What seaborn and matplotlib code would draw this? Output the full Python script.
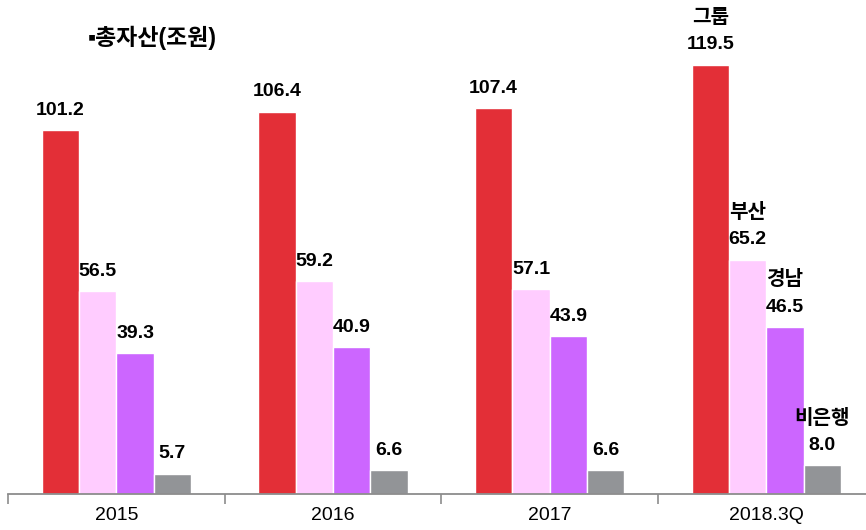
import matplotlib
matplotlib.use("Agg")
import matplotlib.pyplot as plt
import seaborn as sns
import pandas as pd

years = ["2015", "2016", "2017", "2018.3Q"]
series = ["그룹", "부산", "경남", "비은행"]
group = [101.2, 106.4, 107.4, 119.5]
busan = [56.5, 59.2, 57.1, 65.2]
gyeongnam = [39.3, 40.9, 43.9, 46.5]
nonbank = [5.7, 6.6, 6.6, 8.0]
colors = ["#E32F37", "#FFCCFF", "#CC66FF", "#929497"]

rows = []
for name, vals in zip(series, [group, busan, gyeongnam, nonbank]):
    for y, v in zip(years, vals):
        rows.append({"year": y, "series": name, "value": v})
df = pd.DataFrame(rows)

plt.rcParams["font.family"] = ["Liberation Sans", "Noto Sans CJK KR", "DejaVu Sans"]

fig = plt.figure(figsize=(8.66, 5.30), dpi=100)
ax = fig.add_axes([8 / 866, 36 / 530, 858 / 866, 494 / 530])

sns.barplot(data=df, x="year", y="value", hue="series", hue_order=series,
            order=years, palette=colors, width=0.69, saturation=1,
            edgecolor="white", linewidth=1, legend=False, ax=ax)

ax.set_xlim(-0.5, 3.46)
ax.set_ylim(0, 137.5)
ax.set_xlabel("")
ax.set_ylabel("")
ax.set_yticks([])
for s in ["left", "right", "top"]:
    ax.spines[s].set_visible(False)
ax.spines["bottom"].set_color("#8c8c8c")
ax.spines["bottom"].set_linewidth(1.3)

ax.set_xticks(range(len(years)))
ax.set_xticklabels(years, fontsize=14)
ax.set_xticks([-0.5, 0.5, 1.5, 2.5], minor=True)
ax.tick_params(axis="x", which="major", length=0, pad=9)
ax.tick_params(axis="x", which="minor", length=7, width=1.2, color="#8c8c8c")

last = len(years) - 1
for name, cont in zip(series, ax.containers):
    for i, bar in enumerate(cont.patches):
        x = bar.get_x() + bar.get_width() / 2
        h = bar.get_height()
        ax.annotate(f"{h:.1f}", xy=(x, h), xytext=(0, 11), textcoords="offset points",
                    ha="center", va="baseline", fontsize=14, fontweight="bold",
                    annotation_clip=False)
        if i == last:
            ax.annotate(name, xy=(x, h), xytext=(0, 30), textcoords="offset points",
                        ha="center", va="baseline", fontsize=14.5, fontweight="bold",
                        annotation_clip=False)

fig.text(88 / 866, 1 - 38 / 530, "▪총자산(조원)", va="center", ha="left",
         fontsize=16.5, fontweight="bold")

fig.savefig("out.png", dpi=100)
